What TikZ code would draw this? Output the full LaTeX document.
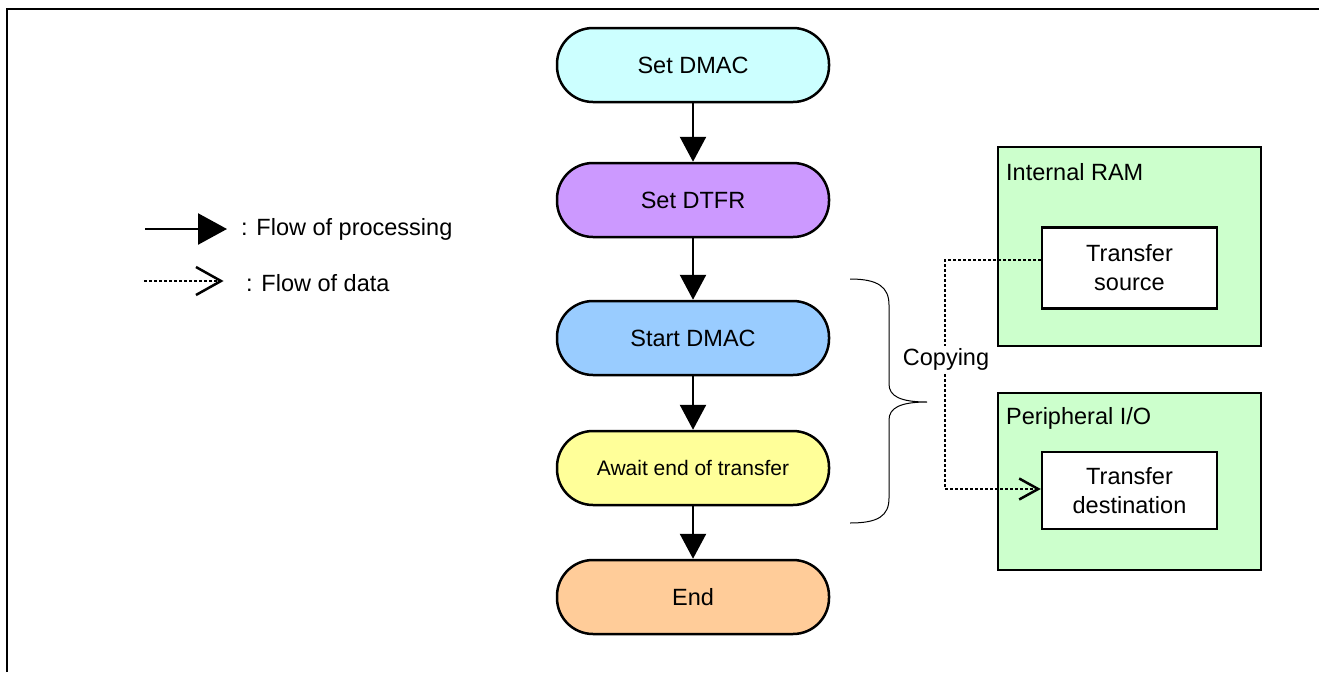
\documentclass[tikz,border=0pt]{standalone}
\usepackage{fontspec}
\setmainfont{Liberation Sans}
\usetikzlibrary{arrows.meta}
\definecolor{cCyan}{HTML}{CCFFFF}
\definecolor{cPurple}{HTML}{CC99FF}
\definecolor{cBlue}{HTML}{99CCFF}
\definecolor{cYellow}{HTML}{FFFF99}
\definecolor{cOrange}{HTML}{FFCC99}
\definecolor{cGreen}{HTML}{CCFFCC}
\tikzset{
  txt/.style={font=\fontsize{23.5}{29}\selectfont, text=black},
  pill/.style={txt, draw=black, line width=2.5pt, rectangle, rounded corners=36pt,
    minimum width=272pt, minimum height=74pt, inner sep=0pt},
  flow/.style={line width=2.5pt, -{Triangle[length=25pt,width=26pt]}},
  flowlegend/.style={line width=2.5pt, -{Triangle[length=29pt,width=31pt]}},
  data/.style={line width=2.5pt, dash pattern=on 2.5pt off 2.5pt},
  area/.style={draw=black, line width=2.5pt, fill=cGreen},
  memblock/.style={txt, draw=black, line width=2.5pt, fill=white, align=center,
    minimum width=175pt, minimum height=81pt, inner sep=0pt},
}
\begin{document}
\begin{tikzpicture}[x=1pt,y=-1pt]
\useasboundingbox (0,0) rectangle (1319,672);
% frame
\draw[line width=2.5pt] (7,672) -- (7,9) -- (1319,9);

% flowchart
\node[pill, fill=cCyan]   (setdmac)  at (693,65)  {Set DMAC};
\node[pill, fill=cPurple] (setdtfr)  at (693,200) {Set DTFR};
\node[pill, fill=cBlue]   (start)    at (693,338) {Start DMAC};
\node[pill, fill=cYellow, font=\fontsize{21}{25}\selectfont] (await) at (693,468) {Await end of transfer};
\node[pill, fill=cOrange] (end)      at (693,597) {End};

\draw[flow] (setdmac.south) -- (setdtfr.north);
\draw[flow] (setdtfr.south) -- (start.north);
\draw[flow] (start.south) -- (await.north);
\draw[flow] (await.south) -- (end.north);

% legend
\coordinate (l1s) at (145,229);
\coordinate (l1e) at (227,229);
\draw[flowlegend] (l1s) -- (l1e);
\node[txt, anchor=west, inner sep=0pt] (l1t) at (241,229) {: Flow of processing};
\coordinate (l2s) at (144,281);
\coordinate (l2e) at (221,281);
\draw[data] (l2s) -- (l2e);
\draw[line width=2.5pt] (l2e) ++(-25,-14) -- (l2e) -- ++(-25,14);
\node[txt, anchor=west, inner sep=0pt] (l2t) at (246,283) {: Flow of data};

% memory areas
\draw[area] (998,147) rectangle (1261,346);
\node[txt, anchor=west, inner sep=0pt] (ram) at (1006,172) {Internal RAM};
\node[memblock] (src) at (1129.5,268) {Transfer\\source};

\draw[area] (998,393) rectangle (1261,570);
\node[txt, anchor=west, inner sep=0pt] (pio) at (1006,418) {Peripheral I/O};
\node[memblock, minimum height=77pt] (dst) at (1129.5,490.5) {Transfer\\destination};

% data connector
\coordinate (bend) at (945,260);
\draw[data, -{Straight Barb[length=19pt,width=21pt]}] ([yshift=8pt]src.west) -- (bend) |- ([yshift=1.5pt]dst.west);

% brace
\draw[line width=1pt] (850,279) .. controls (878,279) and (889,287) .. (889,305)
  -- (889,384) .. controls (889,396) and (900,402) .. (927,402)
  .. controls (900,402) and (889,408) .. (889,420)
  -- (889,498) .. controls (889,516) and (878,523) .. (850,523);

\node[txt, fill=white, inner sep=2pt] (copy) at (946,359) {Copying};
\end{tikzpicture}
\end{document}
